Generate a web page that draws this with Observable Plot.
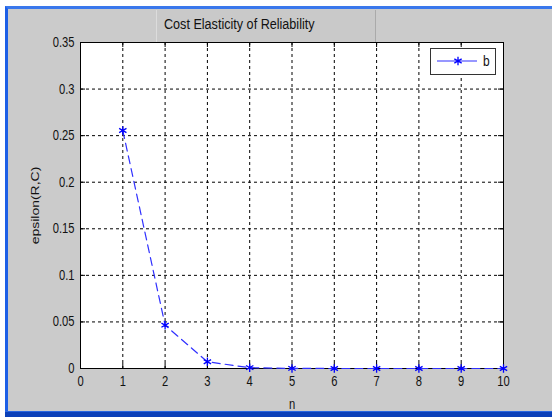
<!DOCTYPE html>
<html>
<head>
<meta charset="utf-8">
<script src="https://cdn.jsdelivr.net/npm/d3@7"></script>
<script src="https://cdn.jsdelivr.net/npm/@observablehq/plot@0.6"></script>
<style>
  html, body { margin: 0; padding: 0; background: #cbcbcb; overflow: hidden; width: 552px; height: 417px; }
  #wrap { position: relative; width: 552px; height: 417px; overflow: hidden; background: white; }
  #win { position: absolute; left: 5px; top: 6px; width: 547px; height: 411px; background: #cbcbcb;
         border-left: 3px solid #1d5fe6; border-top: 3px solid #3a78ec; box-sizing: border-box; }
  #cover { position: absolute; left: 538px; top: 9px; width: 14px; height: 402px; background: #cbcbcb; }
  #bottombar { position: absolute; left: 5px; top: 411px; width: 547px; height: 6px; background: #0c40b8;
               border-top: 1px solid #2a66e0; box-sizing: border-box; }
  #titlebox { position: absolute; left: 156px; top: 10px; width: 220px; height: 32px; box-sizing: border-box;
              border-left: 1px solid #dcdcdc; border-right: 1px solid #aaaaaa; background: #c9c9c9; }
  #titlebox span { position: absolute; left: 7px; top: 6px; white-space: nowrap;
                   font-family: "Liberation Sans", Arial, sans-serif; font-size: 14px; color: #111;
                   transform: scaleX(0.9); transform-origin: 0 0; }
  #plot { position: absolute; left: 0; top: 0; }
  #legend { position: absolute; left: 430px; top: 48px; width: 66px; height: 27px; box-sizing: border-box;
            border: 1px solid #333; background: white; }
</style>
</head>
<body>
<div id="wrap">
  <div id="win"></div>
  <div id="cover"></div>
  <div id="bottombar"></div>
  <div id="titlebox"><span id="title"></span></div>
  <div id="plot"></div>
  <div id="legend"></div>
</div>
<script>
// ---- data ----
const nValues = [1, 2, 3, 4, 5, 6, 7, 8, 9, 10];
const bValues = [0.2555, 0.0465, 0.0072, 0.0009, 0.0001, 0.00001, 0, 0, 0, 0];
const xTicks = [0, 1, 2, 3, 4, 5, 6, 7, 8, 9, 10];
const yTicks = [0, 0.05, 0.1, 0.15, 0.2, 0.25, 0.3, 0.35];
const yTickLabels = ["0", "0.05", "0.1", "0.15", "0.2", "0.25", "0.3", "0.35"];
const seriesName = "b";
const titleText = "Cost Elasticity of Reliability";
const xLabel = "n";
const yLabel = "epsilon(R,C)";

document.getElementById("title").textContent = titleText;

const data = nValues.map((n, i) => ({n, b: bValues[i]}));
const W = 552, H = 417, mL = 80, mR = 49, mT = 42, mB = 49;
const innerH = H - mT - mB, innerW = W - mL - mR;
const tick = 5;
const font = "'Liberation Sans', Arial, sans-serif";

const chart = Plot.plot({
  width: W, height: H,
  marginLeft: mL, marginRight: mR, marginTop: mT, marginBottom: mB,
  style: {background: "transparent", fontFamily: font, fontSize: "14px", color: "#111", overflow: "visible"},
  x: {domain: [0, 10]},
  y: {domain: [0, 0.35]},
  marks: [
    Plot.frame({fill: "white"}),
    Plot.gridX(xTicks, {stroke: "black", strokeOpacity: 1, strokeDasharray: "3,3"}),
    Plot.gridY(yTicks, {stroke: "black", strokeOpacity: 1, strokeDasharray: "3,3"}),
    Plot.ruleX(xTicks, {insetTop: innerH - tick, stroke: "black"}),
    Plot.ruleX(xTicks, {insetBottom: innerH - tick, stroke: "black"}),
    Plot.ruleY(yTicks, {insetRight: innerW - tick, stroke: "black"}),
    Plot.ruleY(yTicks, {insetLeft: innerW - tick, stroke: "black"}),
    Plot.frame({stroke: "black"}),
    Plot.line(data, {x: "n", y: "b", stroke: "#3030ff", strokeWidth: 1.2, strokeDasharray: "8,5"}),
    Plot.dot(data, {x: "n", y: "b", symbol: "asterisk", r: 4, stroke: "blue", strokeWidth: 1.3}),
    Plot.axisX(xTicks, {tickSize: 0, tickPadding: 8, tickFormat: d => String(d), fontSize: 14,
      label: xLabel, labelAnchor: "center", labelOffset: 40, labelArrow: "none"}),
    Plot.axisY(yTicks, {tickSize: 0, tickPadding: 6, tickFormat: (d, i) => yTickLabels[i], fontSize: 14, label: null}),
    Plot.text([yLabel], {frameAnchor: "left", rotate: -90, dx: -45, fontSize: 14, fill: "#111", textAnchor: "middle", lineAnchor: "middle"})
  ]
});
// compress glyphs horizontally (narrow Windows font look)
d3.select(chart).selectAll("text").each(function() {
  const t = this.getAttribute("transform");
  if (t && t.includes("translate")) {
    if (t.includes("rotate")) this.setAttribute("transform", t.replace("rotate", "scale(0.8,1) rotate"));
    else this.setAttribute("transform", t + " scale(0.8,1)");
  }
});
document.getElementById("plot").appendChild(chart);

// legend swatch
const lg = d3.select("#legend").append("svg").attr("width", 64).attr("height", 25);
lg.append("line").attr("x1", 6).attr("x2", 46).attr("y1", 12).attr("y2", 12)
  .attr("stroke", "#3030ff").attr("stroke-width", 1.2);
lg.append("path").attr("d", d3.symbol(d3.symbolAsterisk, 50)()).attr("transform", "translate(27,12)")
  .attr("stroke", "blue").attr("stroke-width", 1.3).attr("fill", "none");
lg.append("text").attr("x", 0).attr("y", 0).text(seriesName)
  .attr("transform", "translate(52,17) scale(0.8,1)")
  .attr("font-family", font).attr("font-size", 15).attr("fill", "#111");
</script>
</body>
</html>
